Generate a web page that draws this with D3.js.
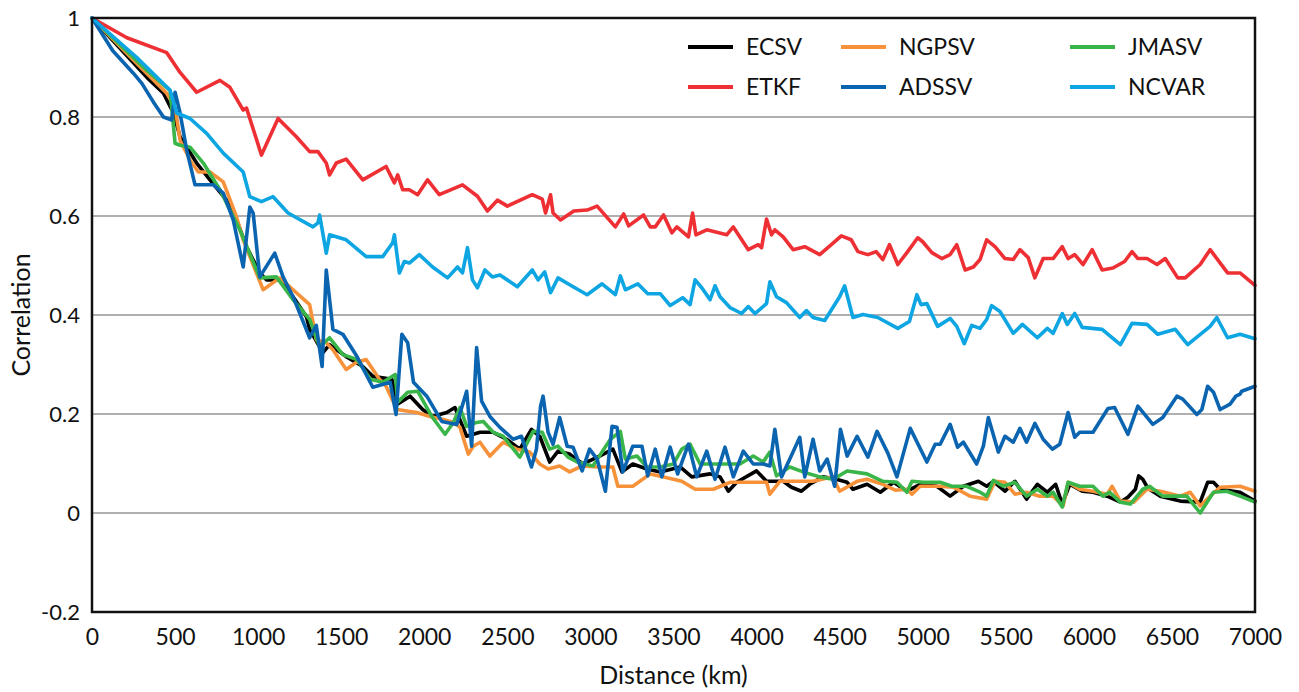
<!DOCTYPE html>
<html>
<head>
<meta charset="utf-8">
<script src="https://cdn.jsdelivr.net/npm/d3@7"></script>
<style>
  body { margin: 0; background: #fff; }
  text { font-family: Lato, "Noto Sans", sans-serif; fill: #111; }
</style>
</head>
<body>
<svg width="1299" height="692"></svg>
<script>
// series names and colours, legend order
const seriesNames = ['ECSV', 'NGPSV', 'JMASV', 'ETKF', 'ADSSV', 'NCVAR']
const seriesColors = ['#000000', '#f7923a', '#3ab54a', '#ee3035', '#0b64b0', '#0ea5e3']

const xTicks = [0, 500, 1000, 1500, 2000, 2500, 3000, 3500, 4000, 4500, 5000, 5500, 6000, 6500, 7000]
const yTicks = [-0.2, 0, 0.2, 0.4, 0.6, 0.8, 1]
const gridTicks = [0, 0.2, 0.4, 0.6, 0.8]

// [distance km, correlation]
const ecsv = [[0,1],[330,0.88],[430,0.848],[490,0.808],[530,0.76],[630,0.707],[710,0.673],[810,0.632],[870,0.592],[930,0.538],[1010,0.485],[1050,0.471],[1130,0.471],[1210,0.437],[1290,0.397],[1310,0.371],[1390,0.324],[1430,0.34],[1530,0.316],[1630,0.296],[1690,0.276],[1805,0.27],[1840,0.22],[1915,0.236],[1990,0.209],[2050,0.195],[2135,0.203],[2185,0.213],[2255,0.155],[2335,0.163],[2415,0.163],[2495,0.149],[2575,0.129],[2645,0.169],[2695,0.155],[2755,0.103],[2805,0.125],[2875,0.119],[2955,0.099],[3055,0.115],[3135,0.129],[3190,0.083],[3255,0.099],[3340,0.089],[3420,0.083],[3540,0.093],[3610,0.073],[3720,0.079],[3780,0.073],[3830,0.044],[3880,0.062],[4000,0.085],[4060,0.064],[4160,0.064],[4210,0.052],[4270,0.044],[4320,0.058],[4400,0.073],[4480,0.068],[4545,0.062],[4580,0.048],[4665,0.058],[4745,0.042],[4825,0.062],[4905,0.044],[4985,0.058],[5085,0.054],[5165,0.034],[5245,0.054],[5335,0.064],[5385,0.054],[5425,0.064],[5495,0.044],[5555,0.064],[5625,0.028],[5690,0.058],[5750,0.042],[5800,0.058],[5840,0.018],[5885,0.058],[5960,0.044],[6025,0.042],[6110,0.034],[6190,0.022],[6235,0.032],[6280,0.048],[6300,0.075],[6325,0.068],[6355,0.05],[6430,0.034],[6550,0.024],[6670,0.022],[6715,0.062],[6750,0.062],[6790,0.048],[6910,0.042],[7000,0.024]]

const ngpsv = [[0,1],[270,0.908],[450,0.848],[500,0.82],[530,0.753],[590,0.713],[640,0.689],[710,0.689],[790,0.669],[870,0.598],[910,0.552],[1030,0.451],[1130,0.475],[1230,0.445],[1310,0.421],[1350,0.35],[1410,0.344],[1450,0.33],[1530,0.29],[1590,0.304],[1650,0.31],[1730,0.27],[1770,0.256],[1835,0.209],[1955,0.203],[2035,0.195],[2115,0.189],[2175,0.183],[2215,0.173],[2265,0.119],[2295,0.135],[2335,0.143],[2395,0.115],[2475,0.143],[2555,0.129],[2635,0.123],[2695,0.099],[2745,0.089],[2815,0.095],[2875,0.083],[2950,0.095],[3040,0.093],[3135,0.093],[3165,0.054],[3255,0.054],[3360,0.079],[3435,0.073],[3550,0.064],[3630,0.048],[3740,0.048],[3840,0.062],[3980,0.062],[4060,0.062],[4080,0.038],[4140,0.064],[4240,0.064],[4340,0.064],[4460,0.073],[4500,0.044],[4605,0.064],[4665,0.068],[4760,0.058],[4835,0.046],[4905,0.048],[4935,0.038],[4985,0.054],[5105,0.054],[5185,0.052],[5285,0.034],[5385,0.028],[5435,0.064],[5495,0.062],[5555,0.038],[5625,0.042],[5705,0.034],[5785,0.034],[5845,0.014],[5875,0.062],[5945,0.048],[6025,0.044],[6110,0.038],[6140,0.054],[6190,0.024],[6270,0.022],[6350,0.048],[6430,0.044],[6550,0.034],[6610,0.042],[6670,0.014],[6730,0.034],[6790,0.052],[6910,0.054],[7000,0.044]]

const jmasv = [[0,1],[330,0.894],[470,0.854],[500,0.747],[530,0.743],[590,0.739],[670,0.707],[770,0.653],[890,0.572],[1010,0.475],[1110,0.477],[1210,0.431],[1310,0.391],[1370,0.336],[1430,0.354],[1510,0.32],[1595,0.31],[1675,0.27],[1750,0.264],[1825,0.28],[1840,0.224],[1900,0.244],[1960,0.246],[2045,0.195],[2125,0.159],[2175,0.183],[2215,0.213],[2255,0.175],[2315,0.183],[2355,0.185],[2415,0.163],[2475,0.155],[2575,0.113],[2655,0.165],[2710,0.163],[2755,0.129],[2805,0.135],[2865,0.113],[2920,0.103],[3015,0.095],[3120,0.149],[3180,0.165],[3210,0.109],[3280,0.115],[3340,0.093],[3420,0.093],[3500,0.099],[3550,0.129],[3600,0.139],[3660,0.099],[3740,0.099],[3820,0.099],[3900,0.099],[3980,0.115],[4040,0.103],[4080,0.123],[4120,0.075],[4200,0.093],[4280,0.083],[4380,0.073],[4460,0.068],[4545,0.085],[4665,0.079],[4760,0.064],[4845,0.062],[4905,0.042],[4935,0.064],[5005,0.062],[5105,0.062],[5175,0.054],[5265,0.054],[5345,0.042],[5385,0.034],[5425,0.066],[5485,0.054],[5555,0.062],[5625,0.034],[5690,0.048],[5750,0.034],[5785,0.042],[5840,0.012],[5875,0.062],[5945,0.054],[6025,0.054],[6085,0.034],[6125,0.042],[6190,0.022],[6250,0.018],[6325,0.048],[6365,0.054],[6445,0.034],[6590,0.034],[6670,0.0],[6750,0.042],[6830,0.044],[6910,0.034],[7000,0.022]]

const etkf = [[0,1],[210,0.96],[450,0.93],[530,0.89],[630,0.85],[770,0.874],[830,0.86],[910,0.814],[930,0.818],[1020,0.723],[1120,0.797],[1230,0.76],[1310,0.73],[1360,0.73],[1410,0.707],[1430,0.683],[1470,0.707],[1530,0.715],[1630,0.673],[1770,0.7],[1820,0.667],[1840,0.683],[1870,0.653],[1910,0.653],[1960,0.643],[2020,0.673],[2090,0.643],[2230,0.663],[2320,0.64],[2380,0.61],[2440,0.632],[2500,0.62],[2650,0.643],[2710,0.634],[2730,0.606],[2760,0.643],[2775,0.606],[2820,0.592],[2900,0.61],[2980,0.612],[3040,0.62],[3150,0.578],[3200,0.604],[3230,0.58],[3320,0.602],[3360,0.578],[3390,0.578],[3440,0.602],[3490,0.566],[3520,0.578],[3590,0.558],[3615,0.606],[3635,0.562],[3700,0.572],[3820,0.562],[3860,0.578],[3950,0.532],[4010,0.542],[4030,0.536],[4060,0.594],[4090,0.562],[4110,0.572],[4160,0.558],[4220,0.532],[4290,0.538],[4380,0.522],[4450,0.542],[4510,0.56],[4570,0.552],[4610,0.528],[4670,0.522],[4720,0.528],[4760,0.512],[4800,0.542],[4850,0.502],[4905,0.526],[4970,0.556],[5000,0.548],[5055,0.526],[5115,0.514],[5165,0.522],[5205,0.542],[5255,0.491],[5305,0.497],[5345,0.512],[5385,0.552],[5435,0.538],[5495,0.514],[5545,0.512],[5585,0.532],[5635,0.516],[5675,0.475],[5725,0.514],[5785,0.514],[5840,0.538],[5875,0.514],[5915,0.522],[5965,0.502],[6020,0.532],[6080,0.491],[6145,0.495],[6215,0.508],[6260,0.528],[6295,0.514],[6350,0.514],[6410,0.502],[6460,0.514],[6535,0.475],[6580,0.475],[6670,0.502],[6730,0.532],[6775,0.512],[6835,0.485],[6910,0.485],[7000,0.46]]

const adssv = [[0,1],[125,0.934],[250,0.888],[300,0.868],[370,0.83],[430,0.8],[480,0.794],[500,0.85],[530,0.808],[570,0.733],[620,0.663],[730,0.663],[790,0.646],[850,0.592],[910,0.497],[950,0.618],[970,0.606],[1010,0.477],[1100,0.525],[1150,0.477],[1210,0.437],[1310,0.354],[1350,0.379],[1385,0.296],[1410,0.491],[1450,0.371],[1510,0.361],[1595,0.316],[1690,0.254],[1795,0.264],[1830,0.199],[1865,0.361],[1900,0.344],[1935,0.264],[2015,0.236],[2105,0.185],[2195,0.179],[2255,0.246],[2285,0.135],[2315,0.334],[2345,0.226],[2395,0.195],[2455,0.173],[2535,0.149],[2585,0.155],[2645,0.093],[2675,0.129],[2700,0.216],[2715,0.236],[2745,0.163],[2775,0.139],[2815,0.193],[2860,0.135],[2895,0.133],[2950,0.085],[2995,0.129],[3040,0.109],[3090,0.044],[3130,0.175],[3160,0.173],[3195,0.083],[3255,0.135],[3310,0.135],[3345,0.075],[3390,0.129],[3430,0.073],[3480,0.133],[3525,0.079],[3590,0.139],[3640,0.073],[3700,0.125],[3750,0.068],[3810,0.133],[3860,0.073],[3920,0.125],[3980,0.099],[4040,0.099],[4080,0.095],[4110,0.169],[4150,0.073],[4200,0.109],[4260,0.153],[4290,0.073],[4340,0.149],[4380,0.085],[4425,0.109],[4470,0.054],[4505,0.169],[4545,0.115],[4605,0.155],[4670,0.113],[4725,0.165],[4790,0.121],[4845,0.073],[4925,0.171],[5025,0.103],[5075,0.139],[5105,0.139],[5165,0.179],[5210,0.133],[5245,0.143],[5325,0.099],[5365,0.135],[5395,0.193],[5455,0.123],[5495,0.155],[5545,0.143],[5585,0.171],[5625,0.143],[5675,0.181],[5725,0.149],[5780,0.129],[5825,0.139],[5875,0.203],[5915,0.153],[5945,0.163],[5995,0.163],[6025,0.163],[6115,0.211],[6155,0.213],[6235,0.159],[6295,0.216],[6385,0.179],[6445,0.193],[6530,0.236],[6565,0.23],[6650,0.199],[6680,0.209],[6715,0.256],[6750,0.244],[6790,0.209],[6850,0.22],[6885,0.236],[6910,0.24],[6920,0.246],[7000,0.256]]

const ncvar = [[0,1],[270,0.92],[470,0.854],[510,0.808],[590,0.797],[690,0.767],[790,0.727],[910,0.689],[950,0.639],[1020,0.629],[1090,0.639],[1180,0.606],[1330,0.578],[1360,0.586],[1370,0.602],[1410,0.525],[1430,0.562],[1530,0.552],[1650,0.518],[1750,0.518],[1810,0.546],[1820,0.562],[1850,0.485],[1880,0.508],[1910,0.505],[1970,0.522],[2050,0.497],[2140,0.475],[2200,0.497],[2230,0.485],[2260,0.536],[2290,0.471],[2320,0.455],[2365,0.491],[2410,0.477],[2455,0.481],[2560,0.457],[2650,0.491],[2685,0.471],[2725,0.487],[2760,0.445],[2805,0.475],[2875,0.461],[2980,0.441],[3070,0.463],[3150,0.441],[3180,0.479],[3210,0.451],[3285,0.463],[3345,0.443],[3420,0.443],[3480,0.419],[3555,0.435],[3600,0.421],[3630,0.471],[3670,0.455],[3720,0.431],[3750,0.459],[3780,0.437],[3840,0.415],[3910,0.403],[3950,0.417],[3990,0.403],[4060,0.423],[4080,0.467],[4120,0.437],[4180,0.425],[4260,0.395],[4300,0.409],[4340,0.395],[4410,0.389],[4500,0.437],[4530,0.459],[4580,0.395],[4640,0.401],[4730,0.395],[4850,0.373],[4920,0.387],[4965,0.441],[4990,0.421],[5025,0.423],[5090,0.377],[5165,0.393],[5205,0.377],[5250,0.342],[5295,0.379],[5345,0.373],[5385,0.391],[5415,0.419],[5465,0.407],[5545,0.363],[5600,0.381],[5690,0.354],[5750,0.373],[5785,0.363],[5840,0.403],[5870,0.381],[5915,0.403],[5960,0.375],[6080,0.371],[6190,0.34],[6260,0.383],[6350,0.381],[6415,0.361],[6520,0.371],[6595,0.34],[6730,0.377],[6770,0.395],[6835,0.354],[6910,0.361],[7000,0.352]]

const seriesData = [ecsv, ngpsv, jmasv, etkf, adssv, ncvar]

const svg = d3.select('svg')
const width = +svg.attr('width')
const height = +svg.attr('height')
const margin = {top: 18, right: 44, bottom: 80, left: 92}
const innerW = width - margin.left - margin.right
const innerH = height - margin.top - margin.bottom

const x = d3.scaleLinear().domain([0, 7000]).range([0, innerW])
const y = d3.scaleLinear().domain([-0.2, 1]).range([innerH, 0])

const g = svg.append('g').attr('transform', `translate(${margin.left},${margin.top})`)

// gridlines
g.selectAll('line.grid')
    .data(gridTicks)
    .enter().append('line')
    .attr('class', 'grid')
    .attr('x1', 0).attr('x2', innerW)
    .attr('y1', d => y(d)).attr('y2', d => y(d))
    .style('stroke', '#b0b0b0')
    .style('stroke-width', 2.2)

// axes, labels only (plain hyphen for negatives like the original)
const fmt = d => String(+d.toFixed(1))
const yAxis = g.append('g')
    .call(d3.axisLeft(y).tickValues(yTicks).tickSize(0).tickPadding(12).tickFormat(fmt))
yAxis.select('.domain').remove()
yAxis.selectAll('text').style('font-size', '22px').style('font-family', 'Lato, sans-serif').attr('fill', '#111')

const xAxis = g.append('g')
    .attr('transform', `translate(0,${innerH})`)
    .call(d3.axisBottom(x).tickValues(xTicks).tickSize(0).tickPadding(17).tickFormat(d3.format('d')))
xAxis.select('.domain').remove()
xAxis.selectAll('text').style('font-size', '23px').style('font-family', 'Lato, sans-serif').attr('fill', '#111')

// lines
const line = d3.line()
    .x(d => x(d[0]))
    .y(d => y(d[1]))

g.selectAll('path.series')
    .data(seriesData)
    .enter().append('path')
    .attr('class', 'series')
    .attr('d', line)
    .style('fill', 'none')
    .style('stroke', (d, i) => seriesColors[i])
    .style('stroke-width', 3.6)
    .style('stroke-linejoin', 'round')
    .style('stroke-linecap', 'round')

// frame
g.append('rect')
    .attr('x', 0).attr('y', 0)
    .attr('width', innerW).attr('height', innerH)
    .style('fill', 'none')
    .style('stroke', '#111')
    .style('stroke-width', 2.5)

// axis titles
svg.append('text')
    .attr('x', margin.left + innerW / 2)
    .attr('y', 684)
    .attr('text-anchor', 'middle')
    .style('font-size', '25px')
    .text('Distance (km)')

svg.append('text')
    .attr('transform', `translate(30,${margin.top + innerH / 2}) rotate(-90)`)
    .attr('text-anchor', 'middle')
    .style('font-size', '25px')
    .text('Correlation')

// legend, 3 columns x 2 rows
const legendX = [688, 841, 1070]
const legendY = [47, 87]
const legend = svg.selectAll('g.legend')
    .data(seriesNames)
    .enter().append('g')
    .attr('class', 'legend')
    .attr('transform', (d, i) => `translate(${legendX[i % 3]},${legendY[Math.floor(i / 3)]})`)
legend.append('line')
    .attr('x1', 0).attr('x2', 45)
    .style('stroke', (d, i) => seriesColors[i])
    .style('stroke-width', 4)
legend.append('text')
    .attr('x', 58)
    .attr('dy', '0.35em')
    .style('font-size', '23px')
    .text(d => d)
</script>
</body>
</html>
